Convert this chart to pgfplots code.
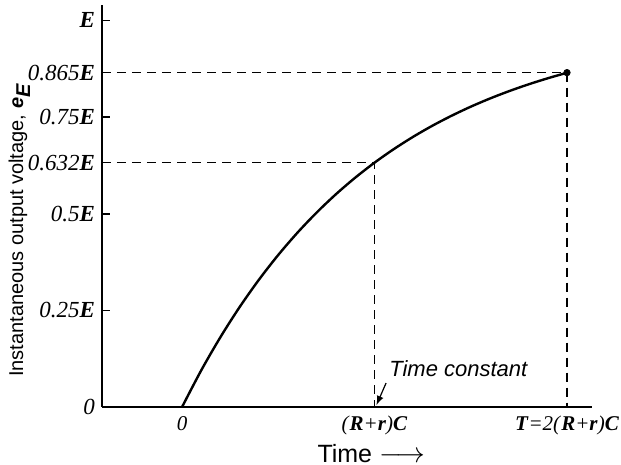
\documentclass[border=0pt]{standalone}
\usepackage{pgfplots}
\pgfplotsset{compat=1.18}
\usepackage{fontspec}
\setmainfont{Liberation Serif}
\setsansfont{Liberation Sans}
\newcommand{\bE}{\textbf{\textit{E}}}
\newcommand{\bR}{\textbf{\textit{R}}}
\newcommand{\br}{\textbf{\textit{r}}}
\newcommand{\bC}{\textbf{\textit{C}}}
\newcommand{\bT}{\textbf{\textit{T}}}
\begin{document}
\begin{tikzpicture}
\begin{axis}[
  at={(0,0)}, anchor=south west,
  scale only axis, width=245pt, height=201pt,
  xmin=-0.416, xmax=2.13, ymin=0, ymax=1.04,
  axis x line=bottom, axis y line=left,
  axis line style={-, line width=1pt},
  xtick={0,1,2},
  xticklabels={\textit{0}, \textit{(}\bR\textit{+}\br\textit{)}\bC, \bT\textit{=2(}\bR\textit{+}\br\textit{)}\bC},
  xtick style={draw=none},
  ytick={0.25,0.5,0.75,1},
  yticklabels={\textit{0.25}\bE, \textit{0.5}\bE, \textit{0.75}\bE, \bE},
  extra y ticks={0,0.632,0.865},
  extra y tick labels={\textit{0}, \textit{0.632}\bE, \textit{0.865}\bE},
  extra y tick style={major tick length=0pt},
  ytick style={line width=0.8pt, black},
  major tick length=4pt, tick align=inside,
  yticklabel style={font=\fontsize{11.5}{13}\selectfont, xshift=0pt},
  xticklabel style={font=\fontsize{10.5}{12}\selectfont, yshift=-1pt},
  xlabel={\textsf{\fontsize{12.5}{14}\selectfont Time {\fontsize{14}{14}\selectfont$\longrightarrow$}}},
  xlabel style={at={(axis description cs:0.55,0)}, anchor=north, yshift=-15pt},
  ylabel={\textsf{\fontsize{10}{12}\selectfont Instantaneous output voltage, \textbf{\textit{e}}$_{\textbf{\textit{E}}}$}},
  ylabel style={yshift=-8pt, xshift=-12pt},
  clip=false,
]
\addplot[black, line width=1.2pt, smooth] coordinates {
(0,0) (0.1,0.0952) (0.2,0.1813) (0.3,0.2592) (0.4,0.3297) (0.5,0.3935)
(0.6,0.4512) (0.7,0.5034) (0.8,0.5507) (0.9,0.5934) (1.0,0.6321)
(1.1,0.6671) (1.2,0.6988) (1.3,0.7275) (1.4,0.7534) (1.5,0.7769)
(1.6,0.7981) (1.7,0.8173) (1.8,0.8347) (1.9,0.8504) (2.0,0.8647)
};
\addplot[black, dashed, dash pattern=on 4.5pt off 3pt, line width=0.6pt] coordinates {(-0.416,0.632) (1,0.632) (1,0)};
\addplot[black, dashed, dash pattern=on 4.5pt off 3pt, line width=0.6pt] coordinates {(-0.416,0.865) (2,0.865) (2,0)};
\addplot[black, only marks, mark=*, mark size=1.6pt] coordinates {(2,0.865)};
\node[font=\sffamily\itshape\fontsize{11}{13}\selectfont, anchor=west] at (axis cs:1.04,0.1) {Time constant};
\draw[-latex, line width=0.6pt] (axis cs:1.06,0.062) -- (axis cs:1.01,0.005);
\end{axis}
\pgfresetboundingbox
\path (-51pt,-29pt) rectangle (259.5pt,203.5pt);
\end{tikzpicture}
\end{document}
